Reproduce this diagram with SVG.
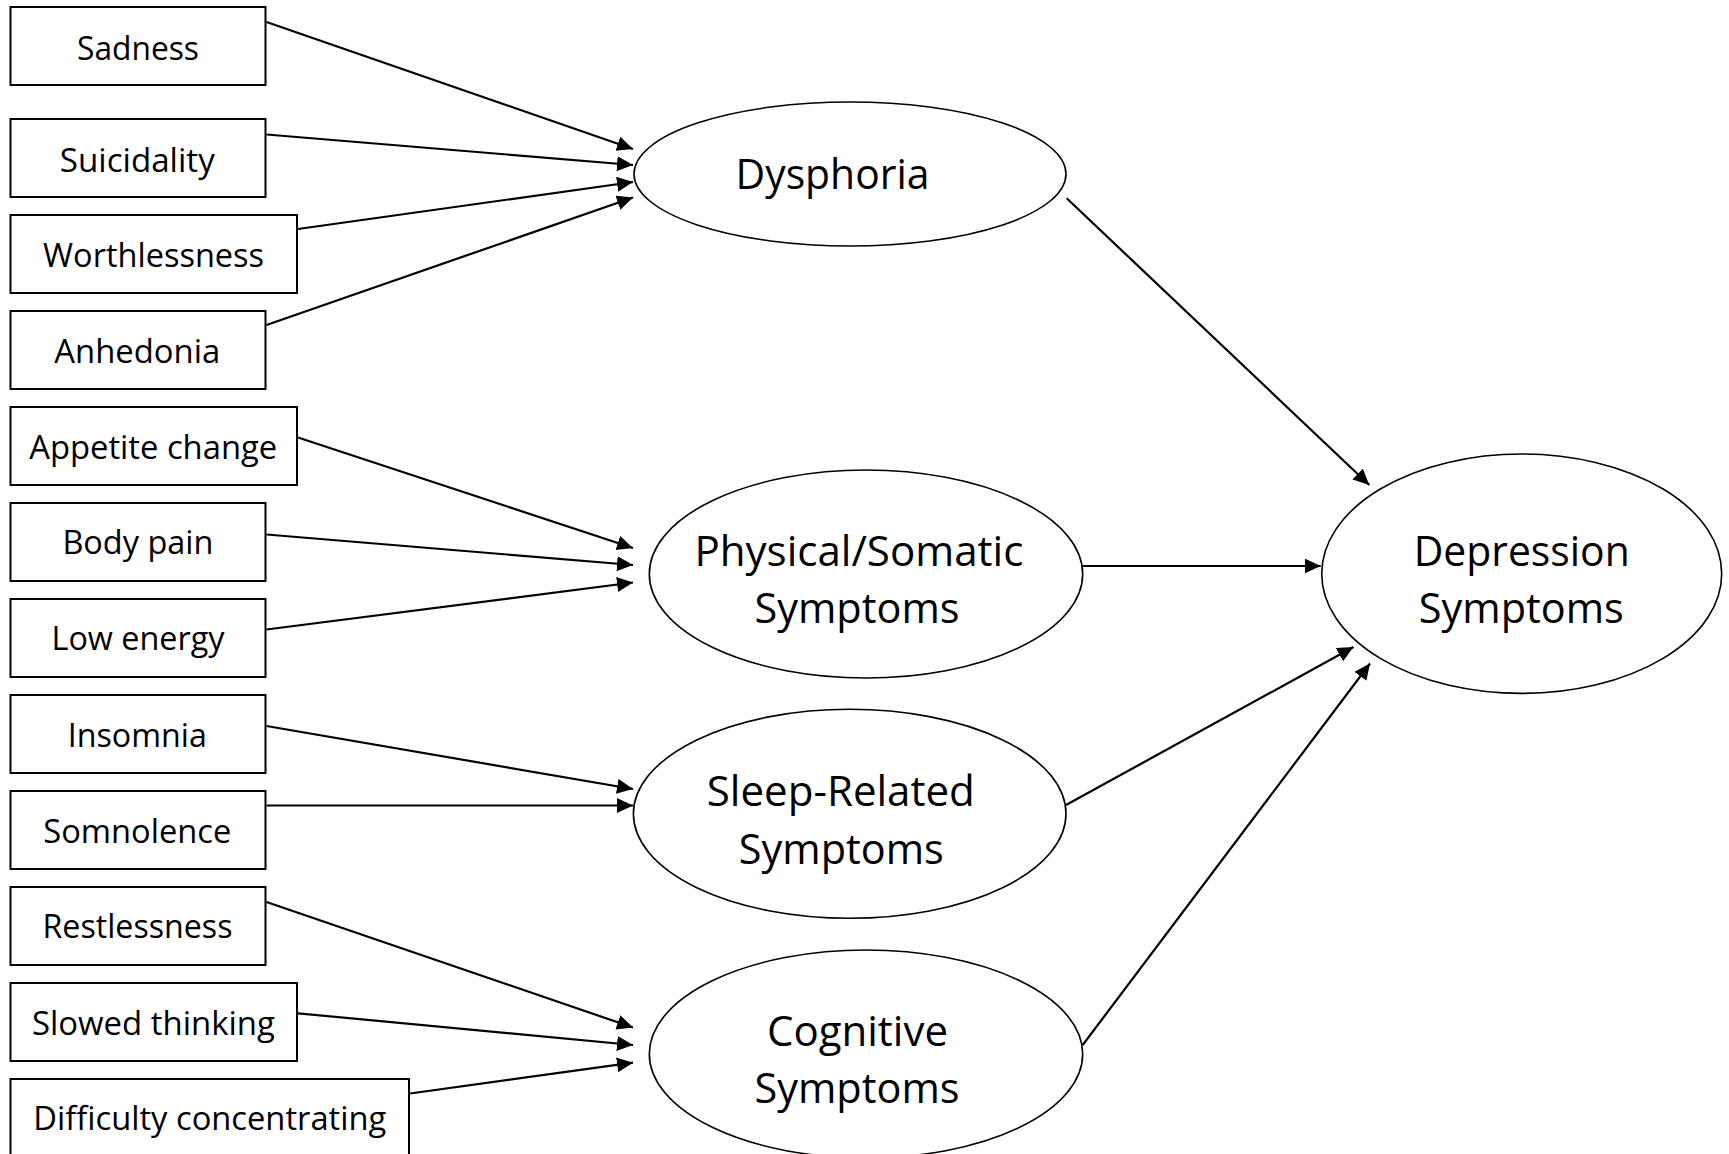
<svg xmlns="http://www.w3.org/2000/svg" width="1729" height="1154" viewBox="0 0 1729 1154">
  <style>
    .box { fill: #ffffff; stroke: #000000; stroke-width: 2; }
    .factor { fill: #ffffff; stroke: #000000; stroke-width: 1.6; }
    .item { font-family: "Open Sans", "Noto Sans", "Liberation Sans", sans-serif; font-size: 33px; fill: #000000; text-anchor: middle; }
    .latent { font-family: "Open Sans", "Noto Sans", "Liberation Sans", sans-serif; font-size: 42px; fill: #000000; text-anchor: middle; }
    .edge { fill: none; stroke: #000000; stroke-width: 2.2; marker-end: url(#arrow); }
  </style>
  <defs>
    <marker id="arrow" markerUnits="userSpaceOnUse" markerWidth="17" markerHeight="16" refX="16" refY="7.5" orient="auto">
      <path d="M0,0 L16,7.5 L0,15 z" fill="#000000"/>
    </marker>
  </defs>
  <rect width="1729" height="1154" fill="#ffffff"/>

  <!-- connectors -->
  <g id="connectors">
    <!-- indicators to Dysphoria -->
    <line class="edge" x1="266.5" y1="22" x2="633" y2="149"/>
    <line class="edge" x1="266.5" y1="134.5" x2="633" y2="165"/>
    <line class="edge" x1="298" y1="229" x2="633" y2="182"/>
    <line class="edge" x1="266.5" y1="325" x2="633" y2="197.5"/>
    <!-- indicators to Physical/Somatic -->
    <line class="edge" x1="298" y1="437.5" x2="633" y2="548"/>
    <line class="edge" x1="266.5" y1="534.5" x2="633" y2="565"/>
    <line class="edge" x1="266.5" y1="629.5" x2="633" y2="582.5"/>
    <!-- indicators to Sleep-Related -->
    <line class="edge" x1="266.5" y1="726" x2="633" y2="789"/>
    <line class="edge" x1="266.5" y1="805.5" x2="633" y2="805.5"/>
    <!-- indicators to Cognitive -->
    <line class="edge" x1="266.5" y1="902" x2="633" y2="1027.5"/>
    <line class="edge" x1="298" y1="1013.3" x2="633" y2="1045"/>
    <line class="edge" x1="410" y1="1093.5" x2="633" y2="1062.7"/>
    <!-- factors to Depression Symptoms -->
    <line class="edge" x1="1066.7" y1="198.3" x2="1369.3" y2="485"/>
    <line class="edge" x1="1082.7" y1="566" x2="1320.7" y2="566"/>
    <line class="edge" x1="1066" y1="805" x2="1353.5" y2="647"/>
    <line class="edge" x1="1082.7" y1="1045" x2="1370" y2="663.5"/>
  </g>

  <!-- observed indicators -->
  <g id="sadness">
    <rect class="box" x="10.5" y="7" width="255" height="78"/>
    <text class="item" x="138" y="60" textLength="122" lengthAdjust="spacingAndGlyphs">Sadness</text>
  </g>
  <g id="suicidality">
    <rect class="box" x="10.5" y="119" width="255" height="78"/>
    <text class="item" x="137.3" y="172" textLength="155" lengthAdjust="spacingAndGlyphs">Suicidality</text>
  </g>
  <g id="worthlessness">
    <rect class="box" x="10.5" y="215" width="286.5" height="78"/>
    <text class="item" x="153.6" y="267" textLength="221" lengthAdjust="spacingAndGlyphs">Worthlessness</text>
  </g>
  <g id="anhedonia">
    <rect class="box" x="10.5" y="311" width="255" height="78"/>
    <text class="item" x="137.3" y="363" textLength="166" lengthAdjust="spacingAndGlyphs">Anhedonia</text>
  </g>
  <g id="appetite-change">
    <rect class="box" x="10.5" y="407" width="286.5" height="78"/>
    <text class="item" x="153.2" y="459" textLength="248" lengthAdjust="spacingAndGlyphs">Appetite change</text>
  </g>
  <g id="body-pain">
    <rect class="box" x="10.5" y="503" width="255" height="78"/>
    <text class="item" x="137.9" y="554" textLength="151" lengthAdjust="spacingAndGlyphs">Body pain</text>
  </g>
  <g id="low-energy">
    <rect class="box" x="10.5" y="599" width="255" height="78"/>
    <text class="item" x="138" y="650" textLength="173" lengthAdjust="spacingAndGlyphs">Low energy</text>
  </g>
  <g id="insomnia">
    <rect class="box" x="10.5" y="695" width="255" height="78"/>
    <text class="item" x="137.3" y="747" textLength="139" lengthAdjust="spacingAndGlyphs">Insomnia</text>
  </g>
  <g id="somnolence">
    <rect class="box" x="10.5" y="791" width="255" height="78"/>
    <text class="item" x="137.3" y="843" textLength="188" lengthAdjust="spacingAndGlyphs">Somnolence</text>
  </g>
  <g id="restlessness">
    <rect class="box" x="10.5" y="887" width="255" height="78"/>
    <text class="item" x="137.5" y="938" textLength="190" lengthAdjust="spacingAndGlyphs">Restlessness</text>
  </g>
  <g id="slowed-thinking">
    <rect class="box" x="10.5" y="983" width="286.5" height="78"/>
    <text class="item" x="153.4" y="1035" textLength="243" lengthAdjust="spacingAndGlyphs">Slowed thinking</text>
  </g>
  <g id="difficulty-concentrating">
    <rect class="box" x="10.5" y="1079" width="398.5" height="78"/>
    <text class="item" x="209.8" y="1130" textLength="353" lengthAdjust="spacingAndGlyphs">Difficulty concentrating</text>
  </g>

  <!-- latent factors -->
  <g id="dysphoria">
    <ellipse class="factor" cx="850" cy="174" rx="216" ry="72"/>
    <text class="latent" x="832.5" y="189" textLength="194" lengthAdjust="spacingAndGlyphs">Dysphoria</text>
  </g>
  <g id="physical-somatic">
    <ellipse class="factor" cx="866" cy="574" rx="216.7" ry="104"/>
    <text class="latent" x="858.9" y="566" textLength="329" lengthAdjust="spacingAndGlyphs">Physical/Somatic</text>
    <text class="latent" x="857" y="623" textLength="205" lengthAdjust="spacingAndGlyphs">Symptoms</text>
  </g>
  <g id="sleep-related">
    <ellipse class="factor" cx="849.7" cy="813.8" rx="216.3" ry="104.5"/>
    <text class="latent" x="840.8" y="806" textLength="268" lengthAdjust="spacingAndGlyphs">Sleep-Related</text>
    <text class="latent" x="841.3" y="864" textLength="205" lengthAdjust="spacingAndGlyphs">Symptoms</text>
  </g>
  <g id="cognitive">
    <ellipse class="factor" cx="866" cy="1054" rx="216.7" ry="104"/>
    <text class="latent" x="857.5" y="1046" textLength="181" lengthAdjust="spacingAndGlyphs">Cognitive</text>
    <text class="latent" x="857" y="1103" textLength="205" lengthAdjust="spacingAndGlyphs">Symptoms</text>
  </g>
  <g id="depression-symptoms">
    <ellipse class="factor" cx="1521.7" cy="573.7" rx="200" ry="119.7"/>
    <text class="latent" x="1521.7" y="566" textLength="216" lengthAdjust="spacingAndGlyphs">Depression</text>
    <text class="latent" x="1521.3" y="623" textLength="205" lengthAdjust="spacingAndGlyphs">Symptoms</text>
  </g>
</svg>
